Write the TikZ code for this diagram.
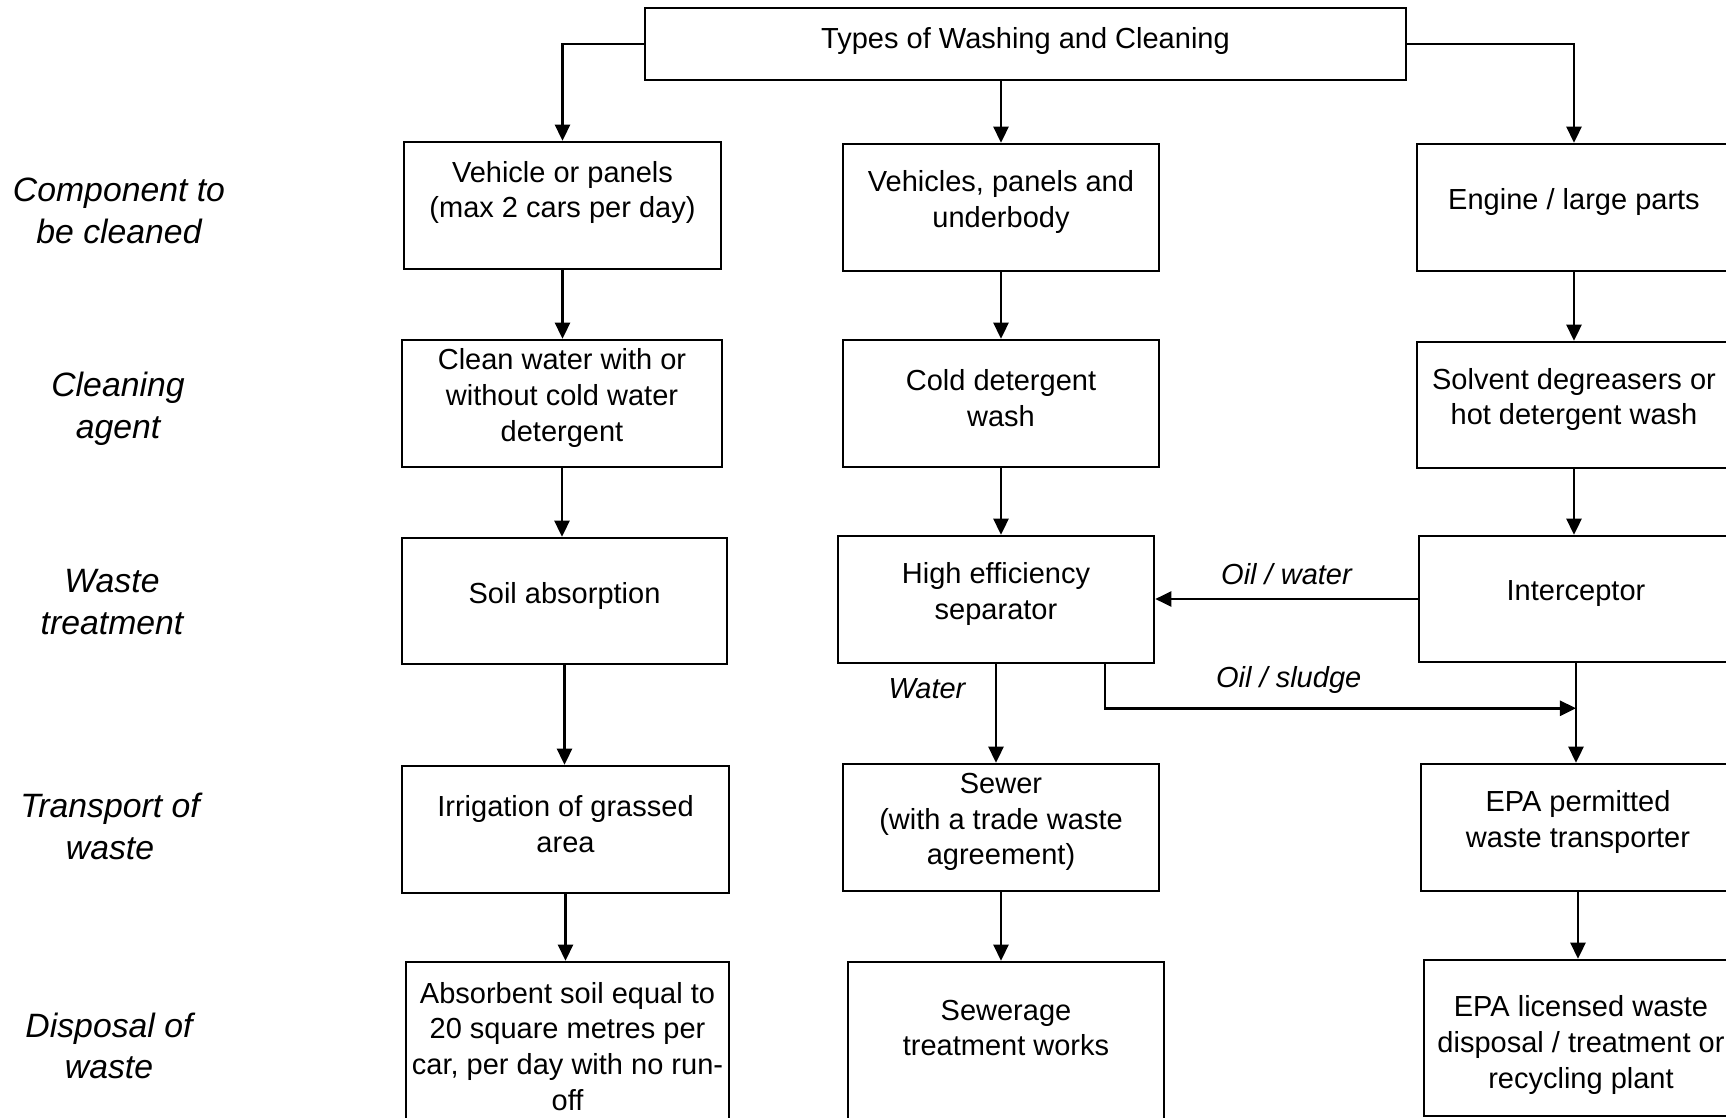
\documentclass[tikz,border=0pt]{standalone}
\usepackage{fontspec}
\setmainfont{Liberation Sans}
\usetikzlibrary{arrows.meta,positioning}
\newcommand{\bxfont}{\fontsize{8.25}{10.2}\selectfont}
\newcommand{\rwfont}{\fontsize{9.6}{11.9}\selectfont}

\begin{document}
\begin{tikzpicture}[x=0.01cm, y=-0.01cm,
  box/.style={draw, line width=0.7pt, minimum width=3.16cm, minimum height=1.27cm, inner sep=0pt},
  every label/.style={align=center, font=\bxfont, yshift=0.055cm},
  arr/.style={-{Triangle[length=0.16cm,width=0.15cm]}, line width=0.7pt},
  rowlbl/.style={align=center, font=\rwfont\itshape},
  flowlbl/.style={font=\bxfont\itshape}]
  \useasboundingbox (0,0) rectangle (1726,1118);
  \clip (0,0) rectangle (1726,1118);

  % row headings
  \node[rowlbl] (hcomp) at (119,211) {Component to\\be cleaned};
  \node[rowlbl] (hagent) at (118,409) {Cleaning\\agent};
  \node[rowlbl] (htreat) at (112,602) {Waste\\treatment};
  \node[rowlbl] (htrans) at (110,826.5) {Transport of\\waste};
  \node[rowlbl] (hdisp) at (109,1046) {Disposal of\\waste};

  \node[box, minimum width=7.61cm, minimum height=0.72cm,
    label={[yshift=-0.022cm]center:Types of Washing and Cleaning}] (title) at (1025.5,44) {};

  % left column: vehicle or panels
  \node[box, minimum width=3.17cm, label={[yshift=0.075cm]center:Vehicle or panels\\(max 2 cars per day)}] (veh) at (562.5,205.5) {};
  \node[box, minimum width=3.2cm, label={center:Clean water with or\\without cold water\\detergent}] (clean) at (562,403.5) {};
  \node[box, minimum width=3.25cm, minimum height=1.26cm, label={center:Soil absorption}] (soil) at (564.5,601) {};
  \node[box, minimum width=3.27cm, label={center:Irrigation of grassed\\area}] (irrig) at (565.5,829.5) {};
  \node[box, minimum width=3.23cm, minimum height=1.98cm,
    label={[yshift=0.09cm]center:Absorbent soil equal to\\20 square metres per\\car, per day with no run-\\off}] (absorb) at (567.5,1061) {};

  % middle column: vehicles, panels and underbody
  \node[box, label={center:Vehicles, panels and\\underbody}] (vpu) at (1001,207.5) {};
  \node[box, label={center:Cold detergent\\wash}] (cold) at (1001,403.5) {};
  \node[box, label={center:High efficiency\\separator}] (sep) at (996,599.5) {};
  \node[box, label={center:Sewer\\(with a trade waste\\agreement)}] (sewer) at (1001,827.5) {};
  \node[box, minimum height=1.98cm,
    label={[yshift=0.275cm]center:Sewerage\\treatment works}] (works) at (1006,1061) {};

  % right column: engine / large parts
  \node[box, minimum width=3.14cm, label={center:Engine / large parts}] (engine) at (1574,207.5) {};
  \node[box, minimum width=3.14cm, minimum height=1.26cm, label={center:Solvent degreasers or\\hot detergent wash}] (solvent) at (1574,405) {};
  \node[box, minimum width=3.14cm, minimum height=1.26cm, label={center:Interceptor}] (intercept) at (1576,599) {};
  \node[box, minimum width=3.14cm, label={center:EPA permitted\\waste transporter}] (transp) at (1578,827.5) {};
  \node[box, minimum width=3.14cm, minimum height=1.56cm,
    label={[yshift=-0.125cm]center:EPA licensed waste\\disposal / treatment or\\recycling plant}] (plant) at (1581,1038) {};

  \draw[arr] (title.west) -| (veh.north);
  \draw[arr] (title.south -| vpu.north) -- (vpu.north);
  \draw[arr] (title.east) -| (engine.north);

  \foreach \a/\b in {veh/clean, clean/soil, soil/irrig, irrig/absorb,
                     vpu/cold, cold/sep, sewer/works,
                     engine/solvent, solvent/intercept, intercept/transp, transp/plant}
    \draw[arr] (\a.south) -- (\a.south |- \b.north);

  % flows out of the separator and the interceptor
  \path (intercept.south) ++(0,45) coordinate (join);
  \draw[arr] (sep.south) -- node[flowlbl, pos=0.25, xshift=-0.69cm] (lwater) {Water} (sep.south |- sewer.north);
  \draw[arr] (intercept.west) -- node[flowlbl, midway, yshift=0.25cm] (loilw) {Oil / water} (intercept.west -| sep.east);
  \draw[arr] ([xshift=1.09cm]sep.south) |- node[flowlbl, pos=0.695, yshift=0.28cm] (lsludge) {Oil / sludge} (join);
\end{tikzpicture}
\end{document}
